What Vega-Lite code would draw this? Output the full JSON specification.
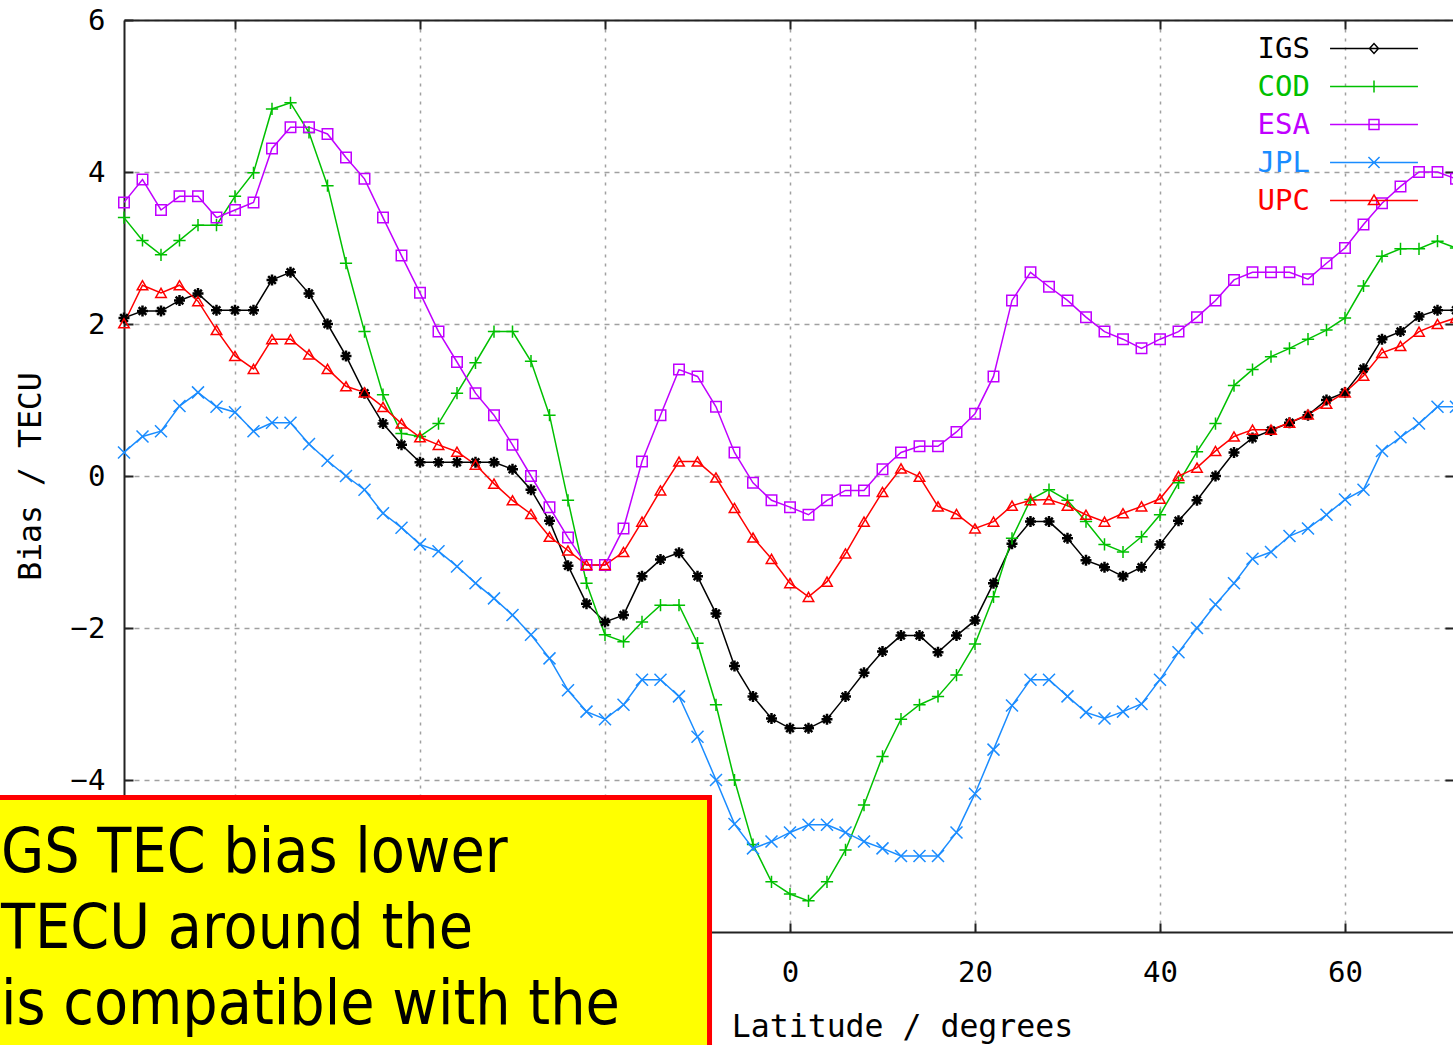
{
  "$schema": "https://vega.github.io/schema/vega-lite/v6.json",
  "width": 1329,
  "height": 912,
  "autosize": {"type": "none"},
  "padding": {"left": 124, "top": 20, "right": 0, "bottom": 113},
  "background": "#ffffff",
  "config": {"view": {"stroke": null}},
  "datasets": {
    "bias": [
      {"src":"IGS","lat":-72,"bias":2.08},{"src":"IGS","lat":-70,"bias":2.17},{"src":"IGS","lat":-68,"bias":2.17},{"src":"IGS","lat":-66,"bias":2.31},{"src":"IGS","lat":-64,"bias":2.40},{"src":"IGS","lat":-62,"bias":2.18},{"src":"IGS","lat":-60,"bias":2.18},{"src":"IGS","lat":-58,"bias":2.18},{"src":"IGS","lat":-56,"bias":2.58},{"src":"IGS","lat":-54,"bias":2.68},
      {"src":"IGS","lat":-52,"bias":2.40},{"src":"IGS","lat":-50,"bias":2.00},{"src":"IGS","lat":-48,"bias":1.58},{"src":"IGS","lat":-46,"bias":1.09},{"src":"IGS","lat":-44,"bias":0.69},{"src":"IGS","lat":-42,"bias":0.41},{"src":"IGS","lat":-40,"bias":0.18},{"src":"IGS","lat":-38,"bias":0.18},{"src":"IGS","lat":-36,"bias":0.18},{"src":"IGS","lat":-34,"bias":0.18},
      {"src":"IGS","lat":-32,"bias":0.18},{"src":"IGS","lat":-30,"bias":0.09},{"src":"IGS","lat":-28,"bias":-0.18},{"src":"IGS","lat":-26,"bias":-0.59},{"src":"IGS","lat":-24,"bias":-1.18},{"src":"IGS","lat":-22,"bias":-1.68},{"src":"IGS","lat":-20,"bias":-1.92},{"src":"IGS","lat":-18,"bias":-1.83},{"src":"IGS","lat":-16,"bias":-1.32},{"src":"IGS","lat":-14,"bias":-1.10},
      {"src":"IGS","lat":-12,"bias":-1.01},{"src":"IGS","lat":-10,"bias":-1.32},{"src":"IGS","lat":-8,"bias":-1.81},{"src":"IGS","lat":-6,"bias":-2.50},{"src":"IGS","lat":-4,"bias":-2.90},{"src":"IGS","lat":-2,"bias":-3.19},{"src":"IGS","lat":0,"bias":-3.32},{"src":"IGS","lat":2,"bias":-3.32},{"src":"IGS","lat":4,"bias":-3.20},{"src":"IGS","lat":6,"bias":-2.90},
      {"src":"IGS","lat":8,"bias":-2.59},{"src":"IGS","lat":10,"bias":-2.31},{"src":"IGS","lat":12,"bias":-2.10},{"src":"IGS","lat":14,"bias":-2.10},{"src":"IGS","lat":16,"bias":-2.32},{"src":"IGS","lat":18,"bias":-2.10},{"src":"IGS","lat":20,"bias":-1.90},{"src":"IGS","lat":22,"bias":-1.41},{"src":"IGS","lat":24,"bias":-0.89},{"src":"IGS","lat":26,"bias":-0.60},
      {"src":"IGS","lat":28,"bias":-0.60},{"src":"IGS","lat":30,"bias":-0.82},{"src":"IGS","lat":32,"bias":-1.11},{"src":"IGS","lat":34,"bias":-1.20},{"src":"IGS","lat":36,"bias":-1.32},{"src":"IGS","lat":38,"bias":-1.20},{"src":"IGS","lat":40,"bias":-0.90},{"src":"IGS","lat":42,"bias":-0.59},{"src":"IGS","lat":44,"bias":-0.32},{"src":"IGS","lat":46,"bias":0.00},
      {"src":"IGS","lat":48,"bias":0.31},{"src":"IGS","lat":50,"bias":0.50},{"src":"IGS","lat":52,"bias":0.60},{"src":"IGS","lat":54,"bias":0.70},{"src":"IGS","lat":56,"bias":0.80},{"src":"IGS","lat":58,"bias":1.00},{"src":"IGS","lat":60,"bias":1.10},{"src":"IGS","lat":62,"bias":1.41},{"src":"IGS","lat":64,"bias":1.80},{"src":"IGS","lat":66,"bias":1.90},
      {"src":"IGS","lat":68,"bias":2.10},{"src":"IGS","lat":70,"bias":2.18},{"src":"IGS","lat":72,"bias":2.18},

      {"src":"COD","lat":-72,"bias":3.40},{"src":"COD","lat":-70,"bias":3.10},{"src":"COD","lat":-68,"bias":2.91},{"src":"COD","lat":-66,"bias":3.10},{"src":"COD","lat":-64,"bias":3.30},{"src":"COD","lat":-62,"bias":3.30},{"src":"COD","lat":-60,"bias":3.68},{"src":"COD","lat":-58,"bias":3.99},{"src":"COD","lat":-56,"bias":4.83},{"src":"COD","lat":-54,"bias":4.91},
      {"src":"COD","lat":-52,"bias":4.52},{"src":"COD","lat":-50,"bias":3.82},{"src":"COD","lat":-48,"bias":2.80},{"src":"COD","lat":-46,"bias":1.90},{"src":"COD","lat":-44,"bias":1.07},{"src":"COD","lat":-42,"bias":0.56},{"src":"COD","lat":-40,"bias":0.52},{"src":"COD","lat":-38,"bias":0.69},{"src":"COD","lat":-36,"bias":1.09},{"src":"COD","lat":-34,"bias":1.49},
      {"src":"COD","lat":-32,"bias":1.90},{"src":"COD","lat":-30,"bias":1.90},{"src":"COD","lat":-28,"bias":1.51},{"src":"COD","lat":-26,"bias":0.80},{"src":"COD","lat":-24,"bias":-0.32},{"src":"COD","lat":-22,"bias":-1.41},{"src":"COD","lat":-20,"bias":-2.09},{"src":"COD","lat":-18,"bias":-2.18},{"src":"COD","lat":-16,"bias":-1.92},{"src":"COD","lat":-14,"bias":-1.70},
      {"src":"COD","lat":-12,"bias":-1.70},{"src":"COD","lat":-10,"bias":-2.20},{"src":"COD","lat":-8,"bias":-3.01},{"src":"COD","lat":-6,"bias":-4.00},{"src":"COD","lat":-4,"bias":-4.85},{"src":"COD","lat":-2,"bias":-5.34},{"src":"COD","lat":0,"bias":-5.50},{"src":"COD","lat":2,"bias":-5.59},{"src":"COD","lat":4,"bias":-5.34},{"src":"COD","lat":6,"bias":-4.92},
      {"src":"COD","lat":8,"bias":-4.33},{"src":"COD","lat":10,"bias":-3.69},{"src":"COD","lat":12,"bias":-3.20},{"src":"COD","lat":14,"bias":-3.01},{"src":"COD","lat":16,"bias":-2.90},{"src":"COD","lat":18,"bias":-2.62},{"src":"COD","lat":20,"bias":-2.21},{"src":"COD","lat":22,"bias":-1.59},{"src":"COD","lat":24,"bias":-0.82},{"src":"COD","lat":26,"bias":-0.31},
      {"src":"COD","lat":28,"bias":-0.18},{"src":"COD","lat":30,"bias":-0.32},{"src":"COD","lat":32,"bias":-0.60},{"src":"COD","lat":34,"bias":-0.90},{"src":"COD","lat":36,"bias":-1.00},{"src":"COD","lat":38,"bias":-0.80},{"src":"COD","lat":40,"bias":-0.51},{"src":"COD","lat":42,"bias":-0.09},{"src":"COD","lat":44,"bias":0.32},{"src":"COD","lat":46,"bias":0.69},
      {"src":"COD","lat":48,"bias":1.19},{"src":"COD","lat":50,"bias":1.40},{"src":"COD","lat":52,"bias":1.57},{"src":"COD","lat":54,"bias":1.68},{"src":"COD","lat":56,"bias":1.80},{"src":"COD","lat":58,"bias":1.92},{"src":"COD","lat":60,"bias":2.08},{"src":"COD","lat":62,"bias":2.50},{"src":"COD","lat":64,"bias":2.89},{"src":"COD","lat":66,"bias":2.99},
      {"src":"COD","lat":68,"bias":2.99},{"src":"COD","lat":70,"bias":3.09},{"src":"COD","lat":72,"bias":3.00},

      {"src":"ESA","lat":-72,"bias":3.60},{"src":"ESA","lat":-70,"bias":3.90},{"src":"ESA","lat":-68,"bias":3.50},{"src":"ESA","lat":-66,"bias":3.68},{"src":"ESA","lat":-64,"bias":3.68},{"src":"ESA","lat":-62,"bias":3.40},{"src":"ESA","lat":-60,"bias":3.50},{"src":"ESA","lat":-58,"bias":3.60},{"src":"ESA","lat":-56,"bias":4.31},{"src":"ESA","lat":-54,"bias":4.59},
      {"src":"ESA","lat":-52,"bias":4.59},{"src":"ESA","lat":-50,"bias":4.50},{"src":"ESA","lat":-48,"bias":4.19},{"src":"ESA","lat":-46,"bias":3.91},{"src":"ESA","lat":-44,"bias":3.40},{"src":"ESA","lat":-42,"bias":2.90},{"src":"ESA","lat":-40,"bias":2.41},{"src":"ESA","lat":-38,"bias":1.90},{"src":"ESA","lat":-36,"bias":1.50},{"src":"ESA","lat":-34,"bias":1.09},
      {"src":"ESA","lat":-32,"bias":0.80},{"src":"ESA","lat":-30,"bias":0.41},{"src":"ESA","lat":-28,"bias":0.00},{"src":"ESA","lat":-26,"bias":-0.41},{"src":"ESA","lat":-24,"bias":-0.81},{"src":"ESA","lat":-22,"bias":-1.17},{"src":"ESA","lat":-20,"bias":-1.17},{"src":"ESA","lat":-18,"bias":-0.69},{"src":"ESA","lat":-16,"bias":0.19},{"src":"ESA","lat":-14,"bias":0.80},
      {"src":"ESA","lat":-12,"bias":1.40},{"src":"ESA","lat":-10,"bias":1.31},{"src":"ESA","lat":-8,"bias":0.91},{"src":"ESA","lat":-6,"bias":0.31},{"src":"ESA","lat":-4,"bias":-0.09},{"src":"ESA","lat":-2,"bias":-0.32},{"src":"ESA","lat":0,"bias":-0.41},{"src":"ESA","lat":2,"bias":-0.51},{"src":"ESA","lat":4,"bias":-0.32},{"src":"ESA","lat":6,"bias":-0.19},
      {"src":"ESA","lat":8,"bias":-0.19},{"src":"ESA","lat":10,"bias":0.09},{"src":"ESA","lat":12,"bias":0.31},{"src":"ESA","lat":14,"bias":0.39},{"src":"ESA","lat":16,"bias":0.39},{"src":"ESA","lat":18,"bias":0.58},{"src":"ESA","lat":20,"bias":0.82},{"src":"ESA","lat":22,"bias":1.31},{"src":"ESA","lat":24,"bias":2.31},{"src":"ESA","lat":26,"bias":2.68},
      {"src":"ESA","lat":28,"bias":2.49},{"src":"ESA","lat":30,"bias":2.31},{"src":"ESA","lat":32,"bias":2.09},{"src":"ESA","lat":34,"bias":1.90},{"src":"ESA","lat":36,"bias":1.80},{"src":"ESA","lat":38,"bias":1.68},{"src":"ESA","lat":40,"bias":1.80},{"src":"ESA","lat":42,"bias":1.90},{"src":"ESA","lat":44,"bias":2.09},{"src":"ESA","lat":46,"bias":2.31},
      {"src":"ESA","lat":48,"bias":2.58},{"src":"ESA","lat":50,"bias":2.68},{"src":"ESA","lat":52,"bias":2.68},{"src":"ESA","lat":54,"bias":2.68},{"src":"ESA","lat":56,"bias":2.59},{"src":"ESA","lat":58,"bias":2.80},{"src":"ESA","lat":60,"bias":3.00},{"src":"ESA","lat":62,"bias":3.31},{"src":"ESA","lat":64,"bias":3.59},{"src":"ESA","lat":66,"bias":3.81},
      {"src":"ESA","lat":68,"bias":4.00},{"src":"ESA","lat":70,"bias":4.00},{"src":"ESA","lat":72,"bias":3.91},

      {"src":"JPL","lat":-72,"bias":0.31},{"src":"JPL","lat":-70,"bias":0.52},{"src":"JPL","lat":-68,"bias":0.59},{"src":"JPL","lat":-66,"bias":0.92},{"src":"JPL","lat":-64,"bias":1.10},{"src":"JPL","lat":-62,"bias":0.91},{"src":"JPL","lat":-60,"bias":0.84},{"src":"JPL","lat":-58,"bias":0.59},{"src":"JPL","lat":-56,"bias":0.70},{"src":"JPL","lat":-54,"bias":0.70},
      {"src":"JPL","lat":-52,"bias":0.42},{"src":"JPL","lat":-50,"bias":0.20},{"src":"JPL","lat":-48,"bias":0.00},{"src":"JPL","lat":-46,"bias":-0.18},{"src":"JPL","lat":-44,"bias":-0.49},{"src":"JPL","lat":-42,"bias":-0.68},{"src":"JPL","lat":-40,"bias":-0.90},{"src":"JPL","lat":-38,"bias":-0.99},{"src":"JPL","lat":-36,"bias":-1.19},{"src":"JPL","lat":-34,"bias":-1.41},
      {"src":"JPL","lat":-32,"bias":-1.61},{"src":"JPL","lat":-30,"bias":-1.83},{"src":"JPL","lat":-28,"bias":-2.09},{"src":"JPL","lat":-26,"bias":-2.40},{"src":"JPL","lat":-24,"bias":-2.82},{"src":"JPL","lat":-22,"bias":-3.10},{"src":"JPL","lat":-20,"bias":-3.20},{"src":"JPL","lat":-18,"bias":-3.01},{"src":"JPL","lat":-16,"bias":-2.68},{"src":"JPL","lat":-14,"bias":-2.68},
      {"src":"JPL","lat":-12,"bias":-2.90},{"src":"JPL","lat":-10,"bias":-3.43},{"src":"JPL","lat":-8,"bias":-4.00},{"src":"JPL","lat":-6,"bias":-4.58},{"src":"JPL","lat":-4,"bias":-4.90},{"src":"JPL","lat":-2,"bias":-4.81},{"src":"JPL","lat":0,"bias":-4.69},{"src":"JPL","lat":2,"bias":-4.59},{"src":"JPL","lat":4,"bias":-4.59},{"src":"JPL","lat":6,"bias":-4.69},
      {"src":"JPL","lat":8,"bias":-4.81},{"src":"JPL","lat":10,"bias":-4.90},{"src":"JPL","lat":12,"bias":-5.00},{"src":"JPL","lat":14,"bias":-5.00},{"src":"JPL","lat":16,"bias":-5.00},{"src":"JPL","lat":18,"bias":-4.69},{"src":"JPL","lat":20,"bias":-4.18},{"src":"JPL","lat":22,"bias":-3.60},{"src":"JPL","lat":24,"bias":-3.02},{"src":"JPL","lat":26,"bias":-2.68},
      {"src":"JPL","lat":28,"bias":-2.68},{"src":"JPL","lat":30,"bias":-2.90},{"src":"JPL","lat":32,"bias":-3.11},{"src":"JPL","lat":34,"bias":-3.19},{"src":"JPL","lat":36,"bias":-3.10},{"src":"JPL","lat":38,"bias":-3.00},{"src":"JPL","lat":40,"bias":-2.68},{"src":"JPL","lat":42,"bias":-2.32},{"src":"JPL","lat":44,"bias":-2.00},{"src":"JPL","lat":46,"bias":-1.69},
      {"src":"JPL","lat":48,"bias":-1.41},{"src":"JPL","lat":50,"bias":-1.09},{"src":"JPL","lat":52,"bias":-1.00},{"src":"JPL","lat":54,"bias":-0.79},{"src":"JPL","lat":56,"bias":-0.69},{"src":"JPL","lat":58,"bias":-0.51},{"src":"JPL","lat":60,"bias":-0.31},{"src":"JPL","lat":62,"bias":-0.18},{"src":"JPL","lat":64,"bias":0.33},{"src":"JPL","lat":66,"bias":0.51},
      {"src":"JPL","lat":68,"bias":0.69},{"src":"JPL","lat":70,"bias":0.91},{"src":"JPL","lat":72,"bias":0.91},

      {"src":"UPC","lat":-72,"bias":2.01},{"src":"UPC","lat":-70,"bias":2.51},{"src":"UPC","lat":-68,"bias":2.41},{"src":"UPC","lat":-66,"bias":2.51},{"src":"UPC","lat":-64,"bias":2.30},{"src":"UPC","lat":-62,"bias":1.92},{"src":"UPC","lat":-60,"bias":1.58},{"src":"UPC","lat":-58,"bias":1.41},{"src":"UPC","lat":-56,"bias":1.80},{"src":"UPC","lat":-54,"bias":1.80},
      {"src":"UPC","lat":-52,"bias":1.60},{"src":"UPC","lat":-50,"bias":1.41},{"src":"UPC","lat":-48,"bias":1.18},{"src":"UPC","lat":-46,"bias":1.10},{"src":"UPC","lat":-44,"bias":0.91},{"src":"UPC","lat":-42,"bias":0.69},{"src":"UPC","lat":-40,"bias":0.51},{"src":"UPC","lat":-38,"bias":0.41},{"src":"UPC","lat":-36,"bias":0.32},{"src":"UPC","lat":-34,"bias":0.15},
      {"src":"UPC","lat":-32,"bias":-0.10},{"src":"UPC","lat":-30,"bias":-0.32},{"src":"UPC","lat":-28,"bias":-0.50},{"src":"UPC","lat":-26,"bias":-0.80},{"src":"UPC","lat":-24,"bias":-0.98},{"src":"UPC","lat":-22,"bias":-1.17},{"src":"UPC","lat":-20,"bias":-1.17},{"src":"UPC","lat":-18,"bias":-1.00},{"src":"UPC","lat":-16,"bias":-0.60},{"src":"UPC","lat":-14,"bias":-0.19},
      {"src":"UPC","lat":-12,"bias":0.19},{"src":"UPC","lat":-10,"bias":0.19},{"src":"UPC","lat":-8,"bias":-0.02},{"src":"UPC","lat":-6,"bias":-0.42},{"src":"UPC","lat":-4,"bias":-0.81},{"src":"UPC","lat":-2,"bias":-1.09},{"src":"UPC","lat":0,"bias":-1.41},{"src":"UPC","lat":2,"bias":-1.59},{"src":"UPC","lat":4,"bias":-1.39},{"src":"UPC","lat":6,"bias":-1.02},
      {"src":"UPC","lat":8,"bias":-0.60},{"src":"UPC","lat":10,"bias":-0.21},{"src":"UPC","lat":12,"bias":0.10},{"src":"UPC","lat":14,"bias":-0.01},{"src":"UPC","lat":16,"bias":-0.40},{"src":"UPC","lat":18,"bias":-0.50},{"src":"UPC","lat":20,"bias":-0.69},{"src":"UPC","lat":22,"bias":-0.60},{"src":"UPC","lat":24,"bias":-0.39},{"src":"UPC","lat":26,"bias":-0.32},
      {"src":"UPC","lat":28,"bias":-0.31},{"src":"UPC","lat":30,"bias":-0.39},{"src":"UPC","lat":32,"bias":-0.51},{"src":"UPC","lat":34,"bias":-0.60},{"src":"UPC","lat":36,"bias":-0.49},{"src":"UPC","lat":38,"bias":-0.40},{"src":"UPC","lat":40,"bias":-0.30},{"src":"UPC","lat":42,"bias":0.00},{"src":"UPC","lat":44,"bias":0.11},{"src":"UPC","lat":46,"bias":0.33},
      {"src":"UPC","lat":48,"bias":0.52},{"src":"UPC","lat":50,"bias":0.61},{"src":"UPC","lat":52,"bias":0.61},{"src":"UPC","lat":54,"bias":0.70},{"src":"UPC","lat":56,"bias":0.81},{"src":"UPC","lat":58,"bias":0.95},{"src":"UPC","lat":60,"bias":1.10},{"src":"UPC","lat":62,"bias":1.32},{"src":"UPC","lat":64,"bias":1.62},{"src":"UPC","lat":66,"bias":1.71},
      {"src":"UPC","lat":68,"bias":1.90},{"src":"UPC","lat":70,"bias":2.00},{"src":"UPC","lat":72,"bias":2.08}
    ]
  },
  "layer": [
    {
      "data": {"name": "bias"},
      "mark": {"type": "line", "strokeWidth": 1.5, "clip": false},
      "encoding": {
        "x": {"field": "lat", "type": "quantitative",
          "scale": {"domain": [-72, 71.676], "nice": false, "zero": false},
          "axis": {"orient": "bottom", "values": [-60, -40, -20, 0, 20, 40, 60], "title": "Latitude / degrees",
            "labelExpr": "datum.value < -10 ? '' : datum.label",
            "grid": true, "gridColor": "#a0a0a0", "gridDash": [3, 6], "gridWidth": 1.5,
            "domain": true, "domainColor": "#222222", "domainWidth": 2,
            "ticks": true, "tickSize": -9, "tickColor": "#222222", "tickWidth": 2,
            "labelFont": "DejaVu Sans Mono", "labelFontSize": 29, "labelColor": "#000000", "labelPadding": 35, "labelFlush": false, "labelOverlap": false,
            "titleFont": "DejaVu Sans Mono", "titleFontSize": 31.5, "titleFontWeight": "normal", "titleColor": "#000000",
            "titleX": 778, "titleY": 95, "titleAlign": "center", "titleBaseline": "middle"}},
        "y": {"field": "bias", "type": "quantitative",
          "scale": {"domain": [-6, 6], "nice": false, "zero": false},
          "axis": {"orient": "left", "values": [-4, -2, 0, 2, 4, 6], "title": "Bias / TECU",
            "grid": true, "gridColor": "#a0a0a0", "gridDash": [5, 5], "gridWidth": 1.5,
            "domain": true, "domainColor": "#222222", "domainWidth": 2,
            "ticks": true, "tickSize": -9, "tickColor": "#222222", "tickWidth": 2,
            "labelFont": "DejaVu Sans Mono", "labelFontSize": 29, "labelColor": "#000000", "labelPadding": 28, "labelFlush": false, "labelOverlap": false,
            "titleFont": "DejaVu Sans Mono", "titleFontSize": 31.5, "titleFontWeight": "normal", "titleColor": "#000000",
            "titleAngle": 270, "titleX": -93, "titleY": 456, "titleAlign": "center", "titleBaseline": "middle"}},
        "color": {"field": "src", "type": "nominal",
          "scale": {"domain": ["IGS", "COD", "ESA", "JPL", "UPC"], "range": ["#000000", "#00c000", "#c000ff", "#1a8cff", "#ff0000"]},
          "legend": {"title": null, "orient": "none", "legendX": 1234, "legendY": 12.5, "padding": 0, "offset": 0,
            "rowPadding": 7, "symbolSize": 900, "symbolStrokeWidth": 1.5, "symbolFillColor": "transparent",
            "symbolType": {"expr": "datum.value==='IGS' ? 'M-2.93,0H2.93M-0.3,0L0,-0.33L0.3,0L0,0.33Z' : datum.value==='COD' ? 'M-2.93,0H2.93M0,-0.4V0.4' : datum.value==='ESA' ? 'M-2.93,0H2.93M-0.33,-0.33H0.33V0.33H-0.33Z' : datum.value==='JPL' ? 'M-2.93,0H2.93M-0.37,-0.37L0.37,0.37M-0.37,0.37L0.37,-0.37' : 'M-2.93,0H2.93M0,-0.37L0.37,0.27L-0.37,0.27Z'"},
            "labelAlign": "right", "labelOffset": -80, "labelFont": "DejaVu Sans Mono", "labelFontSize": 29, "labelLimit": 0,
            "encode": {"labels": {"update": {"fill": {"scale": "color", "field": "value"}}}}}}
      }
    },
    {
      "data": {"name": "bias"},
      "transform": [{"filter": "datum.src === 'IGS'"}],
      "mark": {"type": "point", "filled": false, "size": 121, "opacity": 1, "strokeWidth": 2.5, "clip": false,
        "shape": "M-1,0H1M0,-1V1M-0.7,-0.7L0.7,0.7M-0.7,0.7L0.7,-0.7"},
      "encoding": {
        "x": {"field": "lat", "type": "quantitative",
          "scale": {"domain": [-72, 71.676], "nice": false, "zero": false},
          "axis": {"orient": "top", "values": [-60, -40, -20, 0, 20, 40, 60], "title": null, "labels": false, "grid": false,
            "domain": true, "domainColor": "#222222", "domainWidth": 2,
            "ticks": true, "tickSize": -9, "tickColor": "#222222", "tickWidth": 2}},
        "y": {"field": "bias", "type": "quantitative",
          "scale": {"domain": [-6, 6], "nice": false, "zero": false},
          "axis": {"orient": "right", "values": [-4, -2, 0, 2, 4], "title": null, "labels": false, "grid": false,
            "domain": false, "ticks": true, "tickSize": -8, "tickColor": "#222222", "tickWidth": 2}},
        "color": {"field": "src", "type": "nominal",
          "scale": {"domain": ["IGS", "COD", "ESA", "JPL", "UPC"], "range": ["#000000", "#00c000", "#c000ff", "#1a8cff", "#ff0000"]},
          "legend": {"title": null, "orient": "none", "legendX": 1234, "legendY": 12.5, "padding": 0, "offset": 0,
            "rowPadding": 7, "symbolSize": 900, "symbolStrokeWidth": 1.5, "symbolFillColor": "transparent",
            "symbolType": {"expr": "datum.value==='IGS' ? 'M-2.93,0H2.93M-0.3,0L0,-0.33L0.3,0L0,0.33Z' : datum.value==='COD' ? 'M-2.93,0H2.93M0,-0.4V0.4' : datum.value==='ESA' ? 'M-2.93,0H2.93M-0.33,-0.33H0.33V0.33H-0.33Z' : datum.value==='JPL' ? 'M-2.93,0H2.93M-0.37,-0.37L0.37,0.37M-0.37,0.37L0.37,-0.37' : 'M-2.93,0H2.93M0,-0.37L0.37,0.27L-0.37,0.27Z'"},
            "labelAlign": "right", "labelOffset": -80, "labelFont": "DejaVu Sans Mono", "labelFontSize": 29, "labelLimit": 0,
            "encode": {"labels": {"update": {"fill": {"scale": "color", "field": "value"}}}}}}
      }
    },
    {
      "data": {"name": "bias"},
      "transform": [{"filter": "datum.src === 'COD'"}],
      "mark": {"type": "point", "filled": false, "size": 150, "opacity": 1, "strokeWidth": 1.5, "clip": false, "shape": "M-1,0H1M0,-1V1"},
      "encoding": {
        "x": {"field": "lat", "type": "quantitative", "scale": {"domain": [-72, 71.676], "nice": false, "zero": false}, "axis": null},
        "y": {"field": "bias", "type": "quantitative", "scale": {"domain": [-6, 6], "nice": false, "zero": false}, "axis": null},
        "color": {"field": "src", "type": "nominal",
          "scale": {"domain": ["IGS", "COD", "ESA", "JPL", "UPC"], "range": ["#000000", "#00c000", "#c000ff", "#1a8cff", "#ff0000"]},
          "legend": {"title": null, "orient": "none", "legendX": 1234, "legendY": 12.5, "padding": 0, "offset": 0,
            "rowPadding": 7, "symbolSize": 900, "symbolStrokeWidth": 1.5, "symbolFillColor": "transparent",
            "symbolType": {"expr": "datum.value==='IGS' ? 'M-2.93,0H2.93M-0.3,0L0,-0.33L0.3,0L0,0.33Z' : datum.value==='COD' ? 'M-2.93,0H2.93M0,-0.4V0.4' : datum.value==='ESA' ? 'M-2.93,0H2.93M-0.33,-0.33H0.33V0.33H-0.33Z' : datum.value==='JPL' ? 'M-2.93,0H2.93M-0.37,-0.37L0.37,0.37M-0.37,0.37L0.37,-0.37' : 'M-2.93,0H2.93M0,-0.37L0.37,0.27L-0.37,0.27Z'"},
            "labelAlign": "right", "labelOffset": -80, "labelFont": "DejaVu Sans Mono", "labelFontSize": 29, "labelLimit": 0,
            "encode": {"labels": {"update": {"fill": {"scale": "color", "field": "value"}}}}}}
      }
    },
    {
      "data": {"name": "bias"},
      "transform": [{"filter": "datum.src === 'ESA'"}],
      "mark": {"type": "point", "filled": false, "size": 110, "opacity": 1, "strokeWidth": 1.5, "clip": false, "shape": "square"},
      "encoding": {
        "x": {"field": "lat", "type": "quantitative", "scale": {"domain": [-72, 71.676], "nice": false, "zero": false}, "axis": null},
        "y": {"field": "bias", "type": "quantitative", "scale": {"domain": [-6, 6], "nice": false, "zero": false}, "axis": null},
        "color": {"field": "src", "type": "nominal",
          "scale": {"domain": ["IGS", "COD", "ESA", "JPL", "UPC"], "range": ["#000000", "#00c000", "#c000ff", "#1a8cff", "#ff0000"]},
          "legend": {"title": null, "orient": "none", "legendX": 1234, "legendY": 12.5, "padding": 0, "offset": 0,
            "rowPadding": 7, "symbolSize": 900, "symbolStrokeWidth": 1.5, "symbolFillColor": "transparent",
            "symbolType": {"expr": "datum.value==='IGS' ? 'M-2.93,0H2.93M-0.3,0L0,-0.33L0.3,0L0,0.33Z' : datum.value==='COD' ? 'M-2.93,0H2.93M0,-0.4V0.4' : datum.value==='ESA' ? 'M-2.93,0H2.93M-0.33,-0.33H0.33V0.33H-0.33Z' : datum.value==='JPL' ? 'M-2.93,0H2.93M-0.37,-0.37L0.37,0.37M-0.37,0.37L0.37,-0.37' : 'M-2.93,0H2.93M0,-0.37L0.37,0.27L-0.37,0.27Z'"},
            "labelAlign": "right", "labelOffset": -80, "labelFont": "DejaVu Sans Mono", "labelFontSize": 29, "labelLimit": 0,
            "encode": {"labels": {"update": {"fill": {"scale": "color", "field": "value"}}}}}}
      }
    },
    {
      "data": {"name": "bias"},
      "transform": [{"filter": "datum.src === 'JPL'"}],
      "mark": {"type": "point", "filled": false, "size": 144, "opacity": 1, "strokeWidth": 1.5, "clip": false, "shape": "M-1,-1L1,1M-1,1L1,-1"},
      "encoding": {
        "x": {"field": "lat", "type": "quantitative", "scale": {"domain": [-72, 71.676], "nice": false, "zero": false}, "axis": null},
        "y": {"field": "bias", "type": "quantitative", "scale": {"domain": [-6, 6], "nice": false, "zero": false}, "axis": null},
        "color": {"field": "src", "type": "nominal",
          "scale": {"domain": ["IGS", "COD", "ESA", "JPL", "UPC"], "range": ["#000000", "#00c000", "#c000ff", "#1a8cff", "#ff0000"]},
          "legend": {"title": null, "orient": "none", "legendX": 1234, "legendY": 12.5, "padding": 0, "offset": 0,
            "rowPadding": 7, "symbolSize": 900, "symbolStrokeWidth": 1.5, "symbolFillColor": "transparent",
            "symbolType": {"expr": "datum.value==='IGS' ? 'M-2.93,0H2.93M-0.3,0L0,-0.33L0.3,0L0,0.33Z' : datum.value==='COD' ? 'M-2.93,0H2.93M0,-0.4V0.4' : datum.value==='ESA' ? 'M-2.93,0H2.93M-0.33,-0.33H0.33V0.33H-0.33Z' : datum.value==='JPL' ? 'M-2.93,0H2.93M-0.37,-0.37L0.37,0.37M-0.37,0.37L0.37,-0.37' : 'M-2.93,0H2.93M0,-0.37L0.37,0.27L-0.37,0.27Z'"},
            "labelAlign": "right", "labelOffset": -80, "labelFont": "DejaVu Sans Mono", "labelFontSize": 29, "labelLimit": 0,
            "encode": {"labels": {"update": {"fill": {"scale": "color", "field": "value"}}}}}}
      }
    },
    {
      "data": {"name": "bias"},
      "transform": [{"filter": "datum.src === 'UPC'"}],
      "mark": {"type": "point", "filled": false, "size": 110, "opacity": 1, "strokeWidth": 1.5, "clip": false, "shape": "triangle-up"},
      "encoding": {
        "x": {"field": "lat", "type": "quantitative", "scale": {"domain": [-72, 71.676], "nice": false, "zero": false}, "axis": null},
        "y": {"field": "bias", "type": "quantitative", "scale": {"domain": [-6, 6], "nice": false, "zero": false}, "axis": null},
        "color": {"field": "src", "type": "nominal",
          "scale": {"domain": ["IGS", "COD", "ESA", "JPL", "UPC"], "range": ["#000000", "#00c000", "#c000ff", "#1a8cff", "#ff0000"]},
          "legend": {"title": null, "orient": "none", "legendX": 1234, "legendY": 12.5, "padding": 0, "offset": 0,
            "rowPadding": 7, "symbolSize": 900, "symbolStrokeWidth": 1.5, "symbolFillColor": "transparent",
            "symbolType": {"expr": "datum.value==='IGS' ? 'M-2.93,0H2.93M-0.3,0L0,-0.33L0.3,0L0,0.33Z' : datum.value==='COD' ? 'M-2.93,0H2.93M0,-0.4V0.4' : datum.value==='ESA' ? 'M-2.93,0H2.93M-0.33,-0.33H0.33V0.33H-0.33Z' : datum.value==='JPL' ? 'M-2.93,0H2.93M-0.37,-0.37L0.37,0.37M-0.37,0.37L0.37,-0.37' : 'M-2.93,0H2.93M0,-0.37L0.37,0.27L-0.37,0.27Z'"},
            "labelAlign": "right", "labelOffset": -80, "labelFont": "DejaVu Sans Mono", "labelFontSize": 29, "labelLimit": 0,
            "encode": {"labels": {"update": {"fill": {"scale": "color", "field": "value"}}}}}}
      }
    },
    {
      "data": {"values": [{}]},
      "mark": {"type": "rect", "fill": "#ffff00", "stroke": "#ff0000", "strokeWidth": 5, "clip": false},
      "encoding": {
        "x": {"datum": -87, "type": "quantitative", "scale": {"domain": [-72, 71.676], "nice": false, "zero": false}, "axis": null},
        "x2": {"datum": -8.7},
        "y": {"datum": -4.23, "type": "quantitative", "scale": {"domain": [-6, 6], "nice": false, "zero": false}, "axis": null},
        "y2": {"datum": -8}
      }
    },
    {
      "data": {"values": [{}]},
      "mark": {"type": "text", "text": ["GS TEC bias lower", "TECU around the", "is compatible with the"],
        "align": "left", "baseline": "alphabetic", "font": "DejaVu Sans Condensed, DejaVu Sans", "fontSize": 62, "lineHeight": 76,
        "color": "#000000", "clip": false},
      "encoding": {
        "x": {"datum": -85.3, "type": "quantitative", "scale": {"domain": [-72, 71.676], "nice": false, "zero": false}, "axis": null},
        "y": {"datum": -5.21, "type": "quantitative", "scale": {"domain": [-6, 6], "nice": false, "zero": false}, "axis": null}
      }
    }
  ],
  "resolve": {"axis": {"x": "independent", "y": "independent"}}
}
